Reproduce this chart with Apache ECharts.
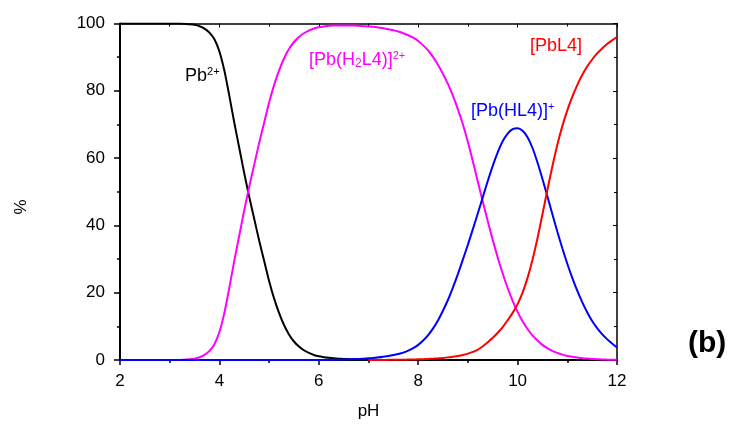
<!DOCTYPE html>
<html>
<head>
<meta charset="utf-8">
<script src="https://cdn.jsdelivr.net/npm/echarts@6/dist/echarts.min.js"></script>
<style>html,body{margin:0;padding:0;background:#fff}#c{width:732px;height:426px}</style>
</head>
<body>
<div id="c"></div>
<script>
// axis tick labels
var xTicks = [2, 4, 6, 8, 10, 12];
var yTicks = [0, 20, 40, 60, 80, 100];

// pH sampling points
var ph = [
  2.0,2.1,2.2,2.3,2.4,2.5,2.6,2.7,2.8,2.9,
  3.0,3.1,3.2,3.3,3.4,3.5,3.6,3.7,3.8,3.9,
  4.0,4.1,4.2,4.3,4.4,4.5,4.6,4.7,4.8,4.9,
  5.0,5.1,5.2,5.3,5.4,5.5,5.6,5.7,5.8,5.9,
  6.0,6.1,6.2,6.3,6.4,6.5,6.6,6.7,6.8,6.9,
  7.0,7.1,7.2,7.3,7.4,7.5,7.6,7.7,7.8,7.9,
  8.0,8.1,8.2,8.3,8.4,8.5,8.6,8.7,8.8,8.9,
  9.0,9.1,9.2,9.3,9.4,9.5,9.6,9.7,9.8,9.9,
  10.0,10.1,10.2,10.3,10.4,10.5,10.6,10.7,10.8,10.9,
  11.0,11.1,11.2,11.3,11.4,11.5,11.6,11.7,11.8,11.9,
  12.0];

// Pb2+ (%)
var pb = [
  100,100,100,100,100,100,100,100,100,100,
  100,100,100,99.9,99.8,99.6,99.2,98.5,97.3,95.3,
  91.7,86,78.5,70.5,63,55.5,48.5,42,35.5,29.5,
  23.5,18.3,14,10.4,7.6,5.5,4.0,2.9,2.1,1.5,
  1.1,0.85,0.65,0.5,0.4,0.32,0.25,0.2,0.15,0.12,
  0.1,0.07,0.05,0.03,0.02,0,0,0,0,0,
  0,0,0,0,0,0,0,0,0,0,
  0,0,0,0,0,0,0,0,0,0,
  0,0,0,0,0,0,0,0,0,0,
  0,0,0,0,0,0,0,0,0,0,
  0];
// [Pb(H2L4)]2+ (%)
var pbH2L = [
  0,0,0,0,0,0,0,0,0,0,
  0,0,0,0.1,0.2,0.4,0.8,1.5,2.7,4.7,
  8.3,14,21.5,29.5,37,44.5,51.5,58,64.5,70.5,
  76.5,81.7,86,89.6,92.4,94.5,96.0,97.1,97.9,98.5,
  98.9,99.1,99.3,99.4,99.4,99.4,99.4,99.4,99.3,99.2,
  99.1,99.0,98.8,98.6,98.3,98.0,97.6,97.1,96.5,95.8,
  94.8,93.5,92,90,87.7,85,82,78.5,74.5,70,
  64.8,59,53,47,41.2,35.7,30.5,25.7,21.4,17.6,
  14.3,11.5,9.2,7.3,5.8,4.5,3.5,2.7,2.1,1.6,
  1.2,0.95,0.75,0.55,0.42,0.32,0.24,0.18,0.13,0.09,
  0.06];
// [Pb(HL4)]+ (%)
var pbHL = [
  0,0,0,0,0,0,0,0,0,0,
  0,0,0,0,0,0,0,0,0,0,
  0,0,0,0,0,0,0,0,0,0,
  0,0,0,0,0,0,0,0,0,0,
  0,0.03,0.05,0.08,0.1,0.15,0.2,0.25,0.3,0.4,
  0.5,0.6,0.8,1.0,1.2,1.5,1.8,2.2,2.8,3.5,
  4.5,5.8,7.4,9.4,11.8,14.7,17.9,21.6,25.6,29.9,
  34.3,38.9,43.6,48.4,53.2,57.7,61.7,65,67.3,68.6,
  68.9,68.1,66.2,63,58.7,53.8,48.6,43.3,38.1,33.2,
  28.6,24.4,20.6,17.2,14.2,11.6,9.5,7.7,6.2,4.9,
  3.7];
// [PbL4] (%), null = not drawn
var pbL = [
  null,null,null,null,null,null,null,null,null,null,
  null,null,null,null,null,null,null,null,null,null,
  null,null,null,null,null,null,null,null,null,null,
  null,null,null,null,null,null,null,null,null,null,
  null,null,null,null,null,null,null,null,null,null,
  0,0.01,0.02,0.03,0.04,0.05,0.07,0.09,0.12,0.15,
  0.2,0.25,0.32,0.4,0.5,0.62,0.78,0.98,1.2,1.5,
  1.9,2.4,3.1,4.1,5.3,6.6,8.1,9.8,11.8,14,
  16.6,20,24.4,29.8,36.2,43.3,50.6,57.6,64,69.5,
  74.2,78.2,81.7,84.7,87.2,89.3,91.1,92.6,93.9,95.0,
  96.0];

var FONT = 'Liberation Sans, Arial, sans-serif';
var chart = echarts.init(document.getElementById('c'));

function pairs(vals) {
  var out = [];
  for (var i = 0; i < ph.length; i++) { if (vals[i] !== null) out.push([ph[i], vals[i]]); }
  return out;
}
function mkSeries(vals, color) {
  return {type:'line', data:pairs(vals), showSymbol:false, smooth:0.25,
    lineStyle:{color:color, width:2}, itemStyle:{color:color}, animation:false, z:3};
}

var option = {
  animation:false,
  grid:{left:120, right:115, top:23.5, bottom:66, containLabel:false},
  xAxis:[{
    type:'value', min:xTicks[0], max:xTicks[xTicks.length-1], interval:2, position:'bottom',
    name:'pH', nameLocation:'middle', nameGap:43,
    nameTextStyle:{fontFamily:FONT, fontSize:17, color:'#000'},
    axisLine:{onZero:false, lineStyle:{color:'#000', width:2}},
    axisTick:{inside:false, length:5, lineStyle:{width:1.5, color:'#000'}},
    minorTick:{show:true, splitNumber:2, length:3, lineStyle:{width:1.5, color:'#000'}},
    axisLabel:{fontFamily:FONT, fontSize:17, color:'#000', margin:13},
    splitLine:{show:false}
  },{
    type:'value', min:2, max:12, interval:2, position:'top',
    axisLine:{onZero:false, lineStyle:{color:'#000', width:1.5}},
    axisTick:{inside:true, length:4, lineStyle:{width:1, color:'#000'}},
    minorTick:{show:true, splitNumber:2, length:3, lineStyle:{width:1, color:'#000'}},
    axisLabel:{show:false}, splitLine:{show:false}
  }],
  yAxis:[{
    type:'value', min:yTicks[0], max:yTicks[yTicks.length-1], interval:20, position:'left',
    axisLine:{onZero:false, lineStyle:{color:'#000', width:2}},
    axisTick:{inside:false, length:6, lineStyle:{width:1.5, color:'#000'}},
    minorTick:{show:true, splitNumber:2, length:3, lineStyle:{width:1.5, color:'#000'}},
    axisLabel:{fontFamily:FONT, fontSize:17, color:'#000', margin:15},
    splitLine:{show:false}
  },{
    type:'value', min:0, max:100, interval:20, position:'right',
    axisLine:{onZero:false, lineStyle:{color:'#000', width:1.5}},
    axisTick:{inside:true, length:4, lineStyle:{width:1, color:'#000'}},
    minorTick:{show:true, splitNumber:2, length:3, lineStyle:{width:1, color:'#000'}},
    axisLabel:{show:false}, splitLine:{show:false}
  }],
  series:[
    mkSeries(pb, '#000000'),
    mkSeries(pbH2L, '#ff00ff'),
    mkSeries(pbHL, '#0000ff'),
    mkSeries(pbL, '#ff0000')
  ],
  graphic:[
    {type:'text', x:21, y:207, rotation:Math.PI/2, z:10, style:{
      text:'%', fontFamily:FONT, fontSize:17, fill:'#000', align:'center', verticalAlign:'middle'}},
    {type:'text', left:185, top:66, z:10, style:{
      text:'{a|Pb}{s|2+}', fill:'#000',
      rich:{a:{fontFamily:FONT, fontSize:18, fill:'#000', lineHeight:20}, s:{fontFamily:FONT, fontSize:11, fill:'#000', verticalAlign:'top', lineHeight:20}}}},
    {type:'text', left:309, top:50, z:10, style:{
      text:'{a|[Pb(H}{b|2}{a|L4)]}{s|2+}',
      rich:{a:{fontFamily:FONT, fontSize:18, fill:'#ff00ff', lineHeight:20}, b:{fontFamily:FONT, fontSize:12, fill:'#ff00ff', verticalAlign:'bottom', lineHeight:20}, s:{fontFamily:FONT, fontSize:11, fill:'#ff00ff', verticalAlign:'top', lineHeight:20}}}},
    {type:'text', left:471, top:101, z:10, style:{
      text:'{a|[Pb(HL4)]}{s|+}',
      rich:{a:{fontFamily:FONT, fontSize:18, fill:'#0000ff', lineHeight:20}, s:{fontFamily:FONT, fontSize:11, fill:'#0000ff', verticalAlign:'top', lineHeight:20}}}},
    {type:'text', left:530, top:37, z:10, style:{
      text:'[PbL4]', fontFamily:FONT, fontSize:18, fill:'#ff0000'}},
    {type:'text', left:688, top:329, z:10, style:{
      text:'(b)', fontFamily:FONT, fontSize:30, fontWeight:'bold', fill:'#000'}}
  ]
};
chart.setOption(option);
</script>
</body>
</html>
